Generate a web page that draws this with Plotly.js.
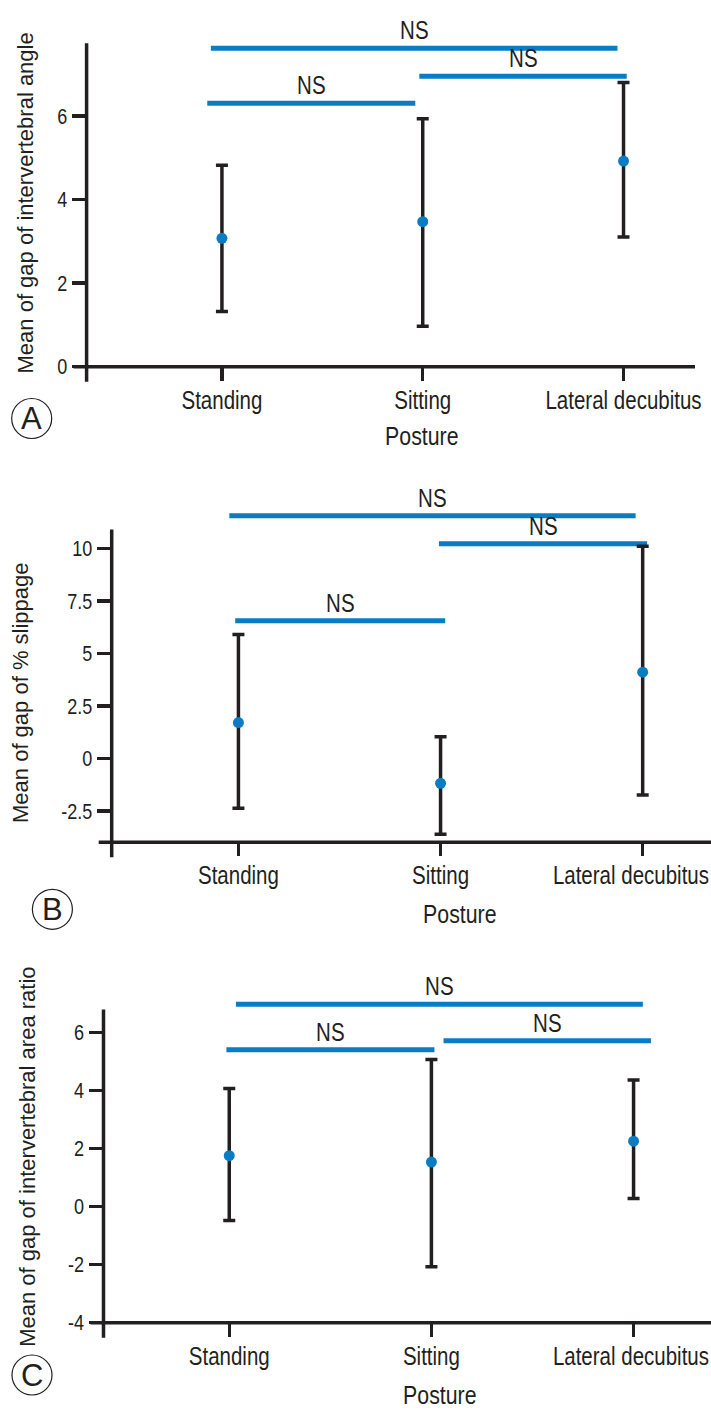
<!DOCTYPE html>
<html>
<head>
<meta charset="utf-8">
<script src="https://cdn.plot.ly/plotly-3.0.1.min.js"></script>
<style>html,body{margin:0;padding:0;background:#fff;}#chart{width:711px;height:1416px;}</style>
</head>
<body>
<div id="chart"></div>
<script>
// ---------- data ----------
const categories = ['Standing', 'Sitting', 'Lateral decubitus'];
const xTitle = 'Posture';
const sigLabel = 'NS';

// Panel A: gap of intervertebral angle
const angleTitle = 'Mean of gap of intervertebral angle';
const angleMean  = [3.07, 3.47, 4.92];
const angleUpper = [4.82, 5.93, 6.80];
const angleLower = [1.32, 0.97, 3.10];
const angleTickVals = [0, 2, 4, 6];
const angleTickText = ['0', '2', '4', '6'];
const angleSigFrom = [-0.055, -0.073, 0.983];
const angleSigTo   = [1.970, 0.963, 2.016];
const angleSigY    = [7.62, 6.30, 6.95];

// Panel B: gap of % slippage
const slipTitle = 'Mean of gap of % slippage';
const slipMean  = [1.70, -1.19, 4.10];
const slipUpper = [5.90, 1.03, 10.10];
const slipLower = [-2.38, -3.62, -1.75];
const slipTickVals = [-2.5, 0, 2.5, 5, 7.5, 10];
const slipTickText = ['-2.5', '0', '2.5', '5', '7.5', '10'];
const slipSigFrom = [-0.045, -0.016, 0.992];
const slipSigTo   = [1.965, 1.023, 2.022];
const slipSigY    = [11.55, 6.55, 10.22];

// Panel C: gap of intervertebral area ratio
const areaTitle = 'Mean of gap of intervertebral area ratio';
const areaMean  = [1.76, 1.54, 2.26];
const areaUpper = [4.08, 5.08, 4.37];
const areaLower = [-0.48, -2.07, 0.28];
const areaTickVals = [-4, -2, 0, 2, 4, 6];
const areaTickText = ['-4', '-2', '0', '2', '4', '6'];
const areaSigFrom = [0.033, -0.014, 1.060];
const areaSigTo   = [2.046, 1.015, 2.086];
const areaSigY    = [6.98, 5.41, 5.72];

const panelLetters = ['A', 'B', 'C'];

// ---------- styling / layout ----------
const W = 711, H = 1416;
const DARK = '#231f20';
const BLUE = '#0a7cc4';
// condensed look: Liberation Sans, horizontally narrowed after drawing (Arial-Narrow-like)
const COND = "'Liberation Sans Narrow', 'Liberation Sans', Arial, sans-serif";
const REG = "'Liberation Sans', Arial, sans-serif";
const NARROW = 0.82;

const panels = [
  {mean: angleMean, up: angleUpper, lo: angleLower, tv: angleTickVals, tt: angleTickText,
   sf: angleSigFrom, st: angleSigTo, sy: angleSigY, title: angleTitle,
   left: 86.6, right: 695, axisPx: 366.7, topPx: 12, ppu: 41.8, yMin: 0, axisTop: 7.74,
   xr: [-0.674, 2.356], titleX: 25, titleY: 203.5, postX: 421.6, postY: 436, circ: [31.7, 418.5]},
  {mean: slipMean, up: slipUpper, lo: slipLower, tv: slipTickVals, tt: slipTickText,
   sf: slipSigFrom, st: slipSigTo, sy: slipSigY, title: slipTitle,
   left: 111.7, right: 711, axisPx: 842.3, topPx: 492, ppu: 21, yMin: -4, axisTop: 10.9,
   xr: [-0.627, 2.338], titleX: 20.5, titleY: 692.5, postX: 460.3, postY: 914, circ: [52.4, 909.3]},
  {mean: areaMean, up: areaUpper, lo: areaLower, tv: areaTickVals, tt: areaTickText,
   sf: areaSigFrom, st: areaSigTo, sy: areaSigY, title: areaTitle,
   left: 103.5, right: 711, axisPx: 1322.7, topPx: 975, ppu: 29, yMin: -4, axisTop: 6.8,
   xr: [-0.622, 2.383], titleX: 27.3, titleY: 1156.5, postX: 439.8, postY: 1395, circ: [32, 1375]}
];

const traces = [];
const shapes = [];
const annotations = [];
const layout = {
  width: W, height: H,
  margin: {l: 0, r: 0, t: 0, b: 0},
  paper_bgcolor: '#ffffff', plot_bgcolor: '#ffffff',
  showlegend: false
};

const idx = categories.map((c, i) => i);

panels.forEach((p, k) => {
  const n = k === 0 ? '' : String(k + 1);
  const xa = 'x' + n, ya = 'y' + n;
  const yMax = p.yMin + (p.axisPx - p.topPx) / p.ppu;
  const plotW = p.right - p.left;
  const plotH = p.axisPx - p.topPx;

  layout['xaxis' + n] = {
    domain: [p.left / W, p.right / W],
    range: p.xr, anchor: ya,
    tickmode: 'array', tickvals: idx, ticktext: categories,
    ticks: 'outside', ticklen: 13, tickwidth: 3.5, tickcolor: DARK,
    ticklabeloverflow: 'allow', ticklabelstandoff: -2,
    showline: false, showgrid: false, zeroline: false,
    tickfont: {family: COND, size: 25, color: DARK},
    fixedrange: true
  };
  layout['yaxis' + n] = {
    domain: [1 - p.axisPx / H, 1 - p.topPx / H],
    range: [p.yMin, yMax], anchor: xa,
    tickmode: 'array', tickvals: p.tv, ticktext: p.tt,
    ticks: 'outside', ticklen: 14, tickwidth: 3.5, tickcolor: DARK,
    showline: false, showgrid: false, zeroline: false,
    tickfont: {family: COND, size: 22, color: DARK},
    fixedrange: true
  };

  // significance bars
  p.sf.forEach((x0, j) => {
    traces.push({
      type: 'scatter', mode: 'lines', xaxis: xa, yaxis: ya,
      x: [x0, p.st[j]], y: [p.sy[j], p.sy[j]],
      line: {color: BLUE, width: 5}, hoverinfo: 'skip'
    });
    annotations.push({
      xref: xa, yref: ya, x: (x0 + p.st[j]) / 2, y: p.sy[j],
      text: sigLabel, showarrow: false, xanchor: 'center', yanchor: 'middle', yshift: 18,
      font: {family: COND, size: 25, color: DARK}
    });
  });

  // means with error bars
  traces.push({
    type: 'scatter', mode: 'markers', xaxis: xa, yaxis: ya,
    x: idx, y: p.mean,
    marker: {color: BLUE, size: 11},
    error_y: {
      type: 'data', symmetric: false,
      array: p.up.map((u, i) => u - p.mean[i]),
      arrayminus: p.lo.map((l, i) => p.mean[i] - l),
      color: DARK, thickness: 3.5, width: 6
    },
    hoverinfo: 'skip'
  });

  // axis lines (offset-crossing style)
  const xd = xa + ' domain', yd = ya + ' domain';
  shapes.push({type: 'line', xref: xd, yref: yd, x0: 0, x1: 0,
    y0: -15 / plotH, y1: (p.axisTop - p.yMin) / (yMax - p.yMin),
    line: {color: DARK, width: 3.5}});
  shapes.push({type: 'line', xref: xd, yref: yd, x0: -13 / plotW, x1: 1, y0: 0, y1: 0,
    line: {color: DARK, width: 3.5}});

  // circled panel letter
  const r = 20;
  shapes.push({type: 'circle', xref: 'paper', yref: 'paper',
    x0: (p.circ[0] - r) / W, x1: (p.circ[0] + r) / W,
    y0: 1 - (p.circ[1] + r) / H, y1: 1 - (p.circ[1] - r) / H,
    line: {color: DARK, width: 1.2}});
  annotations.push({xref: 'paper', yref: 'paper', x: p.circ[0] / W, y: 1 - p.circ[1] / H,
    text: panelLetters[k], showarrow: false, xanchor: 'center', yanchor: 'middle',
    font: {family: REG, size: 31, color: DARK}});

  // y title
  annotations.push({xref: 'paper', yref: 'paper', x: p.titleX / W, y: 1 - p.titleY / H,
    text: p.title, showarrow: false, textangle: -90, xanchor: 'center', yanchor: 'middle',
    font: {family: REG, size: 22, color: DARK}});

  // x title
  annotations.push({xref: 'paper', yref: 'paper', x: p.postX / W, y: 1 - p.postY / H,
    text: xTitle, showarrow: false, xanchor: 'center', yanchor: 'middle',
    font: {family: COND, size: 26, color: DARK}});
});

layout.shapes = shapes;
layout.annotations = annotations;

// narrow the "condensed" texts horizontally about their anchor, keep them inside the page
function condense(gd) {
  gd.querySelectorAll('text').forEach(el => {
    const fam = (el.style.fontFamily || el.getAttribute('font-family') || '');
    if (fam.indexOf('Narrow') < 0) return;
    const bb = el.getBBox();
    const anchor = el.getAttribute('text-anchor') || el.style.textAnchor || 'middle';
    let ax = bb.x + bb.width / 2;
    if (anchor === 'end') ax = bb.x + bb.width;
    else if (anchor === 'start') ax = bb.x;
    const base = el.getAttribute('transform') || '';
    const sc = ' translate(' + ax + ',0) scale(' + NARROW + ',1) translate(' + (-ax) + ',0)';
    el.setAttribute('transform', base + sc);
    const rc = el.getBoundingClientRect();
    const gdr = gd.getBoundingClientRect();
    const over = rc.right - (gdr.left + W - 2);
    if (over > 0) el.setAttribute('transform', base + ' translate(' + (-over) + ',0)' + sc);
  });
}

Plotly.newPlot('chart', traces, layout, {displayModeBar: false, staticPlot: true})
  .then(gd => condense(gd));
</script>
</body>
</html>
